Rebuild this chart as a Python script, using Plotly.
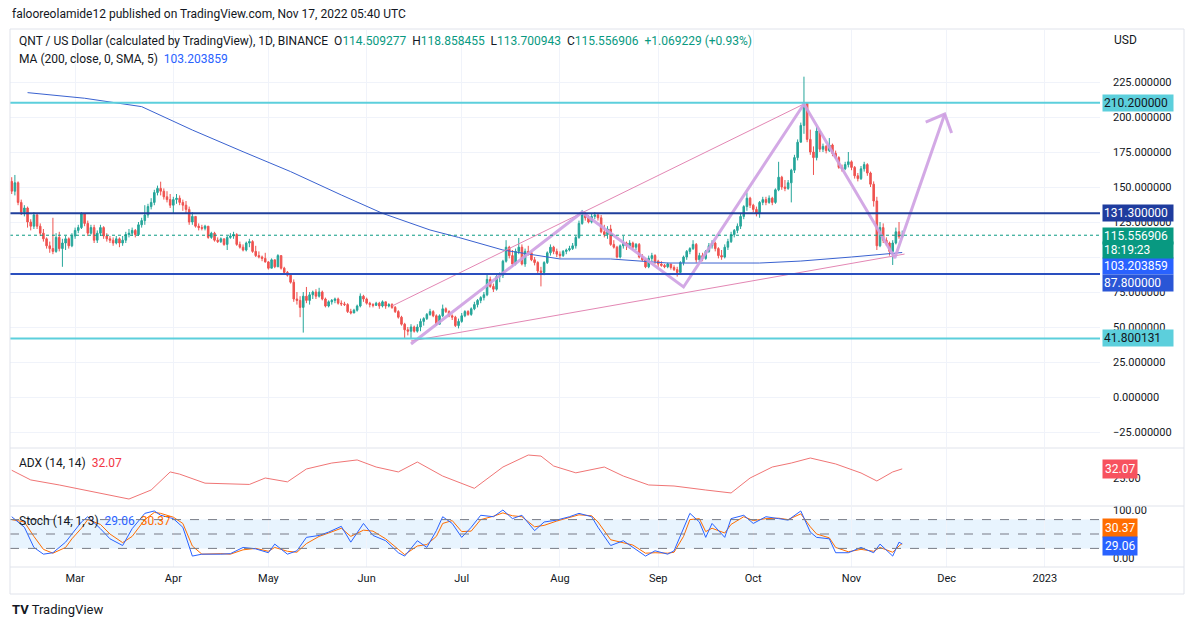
import pandas as pd
import plotly.graph_objects as go
from plotly.subplots import make_subplots

# ---------------- DATA ----------------
START_DATE = "2022-02-09"
END_DATE = "2022-11-17"
FIRST_OPEN = 154
LAST_OPEN = 114.509277

feb_close = [147,153,139,132,135,125,122,130,122,117,113,108,106,104,114,106,110,113,108,115]
feb_high = [157,158.6,154,141,137,136,127,132,131,124,120,114,111,128,117,118,113,115,114,117]
feb_low = [145,144,137,130,129,121,119,120,120,115,111,106,103,102,103,104,93,105,106,107]

mar_close = [119,121,131,124,117,121,112,117,121,115,113,112,110,113,110,112,116,117,119,116,123,126,130,136,139,146,149,147,143,141,137]
mar_high = [121,123,132,131,126,123,123,119,123,122,117,115,114,115,114,115,118,120,121,120,125,128,137,138,142,148,151,153.8,149,147,145]
mar_low = [113,117,120,122,115,116,110,110,115,113,111,110,108,109,107,108,110,114,115,114,115,121,123,128,134,137,144,144,141,139,135]

apr_close = [141,142,139,137,134,125,129,122,121,120.5,122,114,117,112,111,113,109,114,115,116,109,107,105,110,111,104,101,100,99,96.5]
apr_high = [143,145,144,141,140,136,132,129,124,123,123,122,118,118,114,114,113,115,117,118,117,111,109,111,113,112,108,104,101,103]
apr_low = [131,138,137,133,131,123,123,121,119,119,119,113,113,111,110,110,108,105,113,113,108,106,104,104,107,103,100,99,97,96]

may_close = [92,98,93,101,92,89,87,82,70,69,64,72,69,73,75,72,75,70,65,68,69,70,67,66.5,66,61,60,62,65,72,70]
may_high = [97,99,98,102,101,93,90,88,84,75,72,75,78.6,75,76,77,78,76,71,69,70,71,71,69,68,67,63,63,66,74,73]
may_low = [91,92,92,93,91,88,86,81,68,66,57,46,67,66,70,70,71,69,64,64,66,67,66,65,65,60,59,60,61,64,68]

jun_close = [67,66,65.5,67,65,68,65,66,64,61,57,52,48,47,50,47,50,54,56,59,61,58,52,58,63,61,58,57,51,54]
jun_high = [71,68,67,68,68,69,68,67,67,65,62,58,53,50,52,51,52,56,57,60,63,62,59,59,66,64,62,59,58,56]
jun_low = [66,64,64,65,63,64,63,64,63,60,56,51,42,44,42,46,46,47,51,55,58,57,51,52,57,60,57,55,50,49]

jul_close = [58,61,59,63,66,69,71,73,84,79,77,86,87,97,107,101,95,104,107,95,104,103,98,96,90,89,96,103,107,104,102]
jul_high = [60,62,62,64,68,70,72,75,88,86,81,87,89,98,112,108,105,106,113.6,109,106,108,104,100,97,93,97,104,109,108,106]
jul_low = [53,57,58,58,62,64,67,69,72,78,75,76,82,85,96,99,93,94,102,94,93,101,97,94,88,79,87,95,101,102,100]

aug_close = [101,104,105,106,108,114,124,130,128,125,129,130,128,118,116,120,109,107,100,108,110,108,110,107,109,100,98,93,99,101,97]
aug_high = [104,105,106,108,110,115,126,133.6,132,130,131,132,131,130,123,122,123,112,108,109,115,111,112,111,110,110,102,99,101,103,102]
aug_low = [99,100,102,104,105,106,113,123,126,124,124,127,126,117,114,113,108,106,99,99,106,105,106,105,105,99,97,92,92,97,95]

sep_close = [95,94,93,95,92.5,91,89,96,100,104,106,109,98,101,99,104,108,110,106,101,100,107,111,116,119,122,129,136,142,137]
sep_high = [98,97,95,96,95,94,93,97,101,105,107,112,110,103,103,105,110,112,111,107,105,109,113,118,120,124,131,137,146,143]
sep_low = [93,93,92,92,91,90,86,88,94,98,102,105,96,96,97,98,103,106,104,99,98,99,105,110,114,117,120,127,133,135]

oct_close = [134,131,139,141,139,142,139,148,157,150,149,153,162,171,182,194,210,184,175,171,190,177,179,176,180,174,171,164,163,166,168]
oct_high = [138,136,140,143,143,144,143,149,168,158,155,155,163,173,184,196,228.8,210.5,191,179,193,188,181,180,185,181,176,172,166,168,175]
oct_low = [132,129,128,137,137,138,137,138,147,148,147,148,139,160,169,183,188,182,173,158.6,169,175,175,174,175,172,170,163,161,162,164]

nov_close = [164,158,156,163,166,160,152,140,108,121,112,110,104,110,118,114.487677,115.556906]
nov_high = [169,165,160,165,168,167,161,154,143,125,124,114,111,112,121,125,118.858455]
nov_low = [162,156,154,155,161,158,150,136,105,107,110,108,101,94.3,109,113,113.700943]

# Horizontal levels drawn on the chart
level_cyan = [210.2, 41.800131]
level_navy = 131.3
level_blue = 87.8
current_price = 115.556906
countdown = "18:19:23"
ma_last = 103.203859
adx_last = 32.07
stoch_k_last = 29.06
stoch_d_last = 30.37

# MA(200) line
ma_dates = ["2022-02-14","2022-03-04","2022-03-22","2022-04-07","2022-04-23","2022-05-08",
            "2022-05-24","2022-06-06","2022-06-21","2022-06-30","2022-07-14","2022-08-01",
            "2022-08-17","2022-09-04","2022-10-03","2022-10-16","2022-11-01","2022-11-17"]
ma_values = [217.4,213.4,207.4,190.7,175.2,161,144.3,131.2,119.3,114,105,98.6,
             98.6,95.7,95.7,97.1,100,103.203859]

# Drawn trend lines
upper_line_dates = ["2022-06-09", "2022-10-17"]
upper_line_prices = [65, 209.3]
lower_line_dates = ["2022-06-15", "2022-11-17 18:00"]
lower_line_prices = [40, 102.1]
path_dates = ["2022-06-15", "2022-08-08", "2022-09-09", "2022-10-17", "2022-11-14 16:00", "2022-11-30 10:00"]
path_prices = [37.9, 132, 78.6, 209.3, 99.3, 202.1]
head_dates = ["2022-11-24 10:00", "2022-11-30 10:00", "2022-12-02 14:00"]
head_prices = [196.4, 202.1, 188.6]

# ADX(14,14)
adx_dates = ["2022-02-09","2022-02-15","2022-02-24","2022-03-09","2022-03-18","2022-03-25",
             "2022-03-31","2022-04-03","2022-04-11","2022-04-25","2022-04-30","2022-05-07",
             "2022-05-13","2022-05-21","2022-05-29","2022-06-04","2022-06-11","2022-06-17",
             "2022-06-25","2022-07-05","2022-07-14","2022-07-22","2022-07-26","2022-07-30",
             "2022-08-06","2022-08-15","2022-08-21","2022-08-29","2022-09-06","2022-09-16",
             "2022-09-24","2022-09-30","2022-10-07","2022-10-13","2022-10-19","2022-10-27",
             "2022-11-04","2022-11-09","2022-11-14","2022-11-17"]
adx_values = [31,23.5,19.6,13,8.7,15.7,29.7,28,21,20,25,22,32,36.6,39,33.5,29.7,37.4,
              26.5,17,33.5,42.8,42,34.3,29,33.5,26.5,19.6,18.8,15.7,13.4,25,33.5,36.6,
              40.5,35.9,28.9,22.7,29.7,32.07]

# Stoch(14,1,3)
stoch_dates = ["2022-02-09","2022-02-13","2022-02-16","2022-02-19","2022-02-22","2022-02-26",
               "2022-02-28","2022-03-03","2022-03-05","2022-03-09","2022-03-12","2022-03-16",
               "2022-03-19","2022-03-23","2022-03-26","2022-03-28","2022-04-01","2022-04-04",
               "2022-04-07","2022-04-10","2022-04-16","2022-04-19","2022-04-23","2022-04-27",
               "2022-05-01","2022-05-03","2022-05-07","2022-05-10","2022-05-13","2022-05-17",
               "2022-05-20","2022-05-24","2022-05-27","2022-05-31","2022-06-03","2022-06-07",
               "2022-06-11","2022-06-13","2022-06-17","2022-06-20","2022-06-23","2022-06-25",
               "2022-06-28","2022-07-01","2022-07-04","2022-07-07","2022-07-11","2022-07-14",
               "2022-07-17","2022-07-20","2022-07-24","2022-07-27","2022-07-31","2022-08-04",
               "2022-08-07","2022-08-11","2022-08-13","2022-08-17","2022-08-21","2022-08-24",
               "2022-08-28","2022-08-31","2022-09-04","2022-09-06","2022-09-09","2022-09-11",
               "2022-09-14","2022-09-16","2022-09-18","2022-09-22","2022-09-24","2022-09-28",
               "2022-10-01","2022-10-05","2022-10-09","2022-10-12","2022-10-16","2022-10-19",
               "2022-10-21","2022-10-25","2022-10-27","2022-10-31","2022-11-04","2022-11-08",
               "2022-11-10","2022-11-14","2022-11-16","2022-11-17"]
stoch_k = [86,64,22,8,11,33,50,75,86,61,40,26,61,93,98,89,82,64,4,8,8,9,22,19,
           11,29,8,15,43,47,54,66,33,72,47,36,11,4,36,22,57,86,72,43,64,89,86,100,
           82,89,57,75,79,86,93,86,64,26,36,22,4,15,8,15,64,93,75,43,72,43,82,89,
           72,86,82,79,98,54,43,40,11,11,22,11,29,4,33,29.06]
stoch_d = [80,75,45,18,10,22,40,62,80,70,50,32,45,80,95,93,85,72,25,8,9,8,17,20,
           14,22,14,12,30,45,52,62,45,58,56,40,18,7,25,28,45,72,78,55,56,80,87,94,
           88,86,65,68,77,84,90,88,75,38,32,27,10,11,10,12,45,80,82,55,62,52,70,86,
           78,82,83,80,92,65,50,42,22,13,18,14,22,12,25,30.37]

month_ticks = ["2022-03-01","2022-04-01","2022-05-01","2022-06-01","2022-07-01","2022-08-01",
               "2022-09-01","2022-10-01","2022-11-01","2022-12-01","2023-01-01"]
month_labels = ["Mar","Apr","May","Jun","Jul","Aug","Sep","Oct","Nov","Dec","2023"]
price_ticks = [-25, 0, 25, 50, 75, 100, 125, 150, 175, 200, 225]
price_hidden = [100]   # label fully covered by price tags in the reference

# ---------------- BUILD ----------------
closes = (feb_close + mar_close + apr_close + may_close + jun_close + jul_close +
          aug_close + sep_close + oct_close + nov_close)
highs = (feb_high + mar_high + apr_high + may_high + jun_high + jul_high +
         aug_high + sep_high + oct_high + nov_high)
lows = (feb_low + mar_low + apr_low + may_low + jun_low + jul_low +
        aug_low + sep_low + oct_low + nov_low)
dates = pd.date_range(START_DATE, END_DATE, freq="D")
opens = [FIRST_OPEN] + closes[:-1]
opens[-1] = LAST_OPEN

price_text = ["" if v in price_hidden else f"{v:.6f}".replace("-", "\u2212") for v in price_ticks]

FONT = "Roboto, Arial, sans-serif"
TXT = "#131722"
GRID = "#f0f3fa"
UP = "#26a69a"
DOWN = "#ef5350"

# The page body has an 8px margin: plot area on screen is px 10..1100 x, 30..567 y
PAGE = 8
W, H = 1194 - PAGE, 627 - PAGE
L, R, T, B = 10, 1100, 30, 567
def px_x(px):
    return (px - L) / (R - L)
def px_y(py):
    return (B - py) / (B - T)

fig = make_subplots(rows=3, cols=1, shared_xaxes=True, vertical_spacing=0.01)

fig.add_trace(go.Candlestick(
    x=dates, open=opens, high=highs, low=lows, close=closes,
    increasing=dict(line=dict(color=UP, width=1), fillcolor=UP),
    decreasing=dict(line=dict(color=DOWN, width=1), fillcolor=DOWN),
    whiskerwidth=0, hoverinfo="skip"), row=1, col=1)

fig.add_trace(go.Scatter(x=ma_dates, y=ma_values, mode="lines",
                         line=dict(color="#3a62d0", width=1), hoverinfo="skip"), row=1, col=1)

# drawings
fig.add_trace(go.Scatter(x=upper_line_dates, y=upper_line_prices, mode="lines",
                         line=dict(color="#e387b4", width=1), hoverinfo="skip"), row=1, col=1)
fig.add_trace(go.Scatter(x=lower_line_dates, y=lower_line_prices, mode="lines",
                         line=dict(color="#e387b4", width=1), hoverinfo="skip"), row=1, col=1)
fig.add_trace(go.Scatter(x=path_dates, y=path_prices, mode="lines",
                         line=dict(color="rgba(206,160,226,0.9)", width=3), hoverinfo="skip"), row=1, col=1)
fig.add_trace(go.Scatter(x=head_dates, y=head_prices, mode="lines",
                         line=dict(color="rgba(206,160,226,0.9)", width=3), hoverinfo="skip"), row=1, col=1)

# ADX
fig.add_trace(go.Scatter(x=adx_dates, y=adx_values, mode="lines",
                         line=dict(color="#f07575", width=1), hoverinfo="skip"), row=2, col=1)

# Stoch
fig.add_trace(go.Scatter(x=stoch_dates, y=stoch_d, mode="lines",
                         line=dict(color="#ff6d00", width=1), hoverinfo="skip"), row=3, col=1)
fig.add_trace(go.Scatter(x=stoch_dates, y=stoch_k, mode="lines",
                         line=dict(color="#2962ff", width=1), hoverinfo="skip"), row=3, col=1)

x_range = ["2022-02-08 11:00", "2023-01-18 10:00"]
fig.update_xaxes(range=x_range, tickvals=month_ticks, ticktext=month_labels,
                 showgrid=True, gridcolor=GRID, gridwidth=1, zeroline=False,
                 showline=False, rangeslider_visible=False, ticks="",
                 tickfont=dict(family=FONT, size=11, color=TXT))
fig.update_xaxes(showticklabels=False, row=1, col=1)
fig.update_xaxes(showticklabels=False, row=2, col=1)
fig.update_xaxes(showticklabels=True, ticklabelstandoff=3, row=3, col=1)

fig.update_layout(
    yaxis=dict(domain=[px_y(447), 1], range=[-35.71, 262.14], side="right",
               tickvals=price_ticks, ticktext=price_text, showgrid=True, gridcolor=GRID,
               zeroline=False, ticks="", ticklabelstandoff=12,
               tickfont=dict(family=FONT, size=11, color=TXT)),
    yaxis2=dict(domain=[px_y(505), px_y(449)], range=[4.07, 47.48], side="right",
                tickvals=[25], ticktext=["25.00"], showgrid=False, zeroline=False,
                ticks="", ticklabelstandoff=12,
                tickfont=dict(family=FONT, size=11, color=TXT)),
    yaxis3=dict(domain=[0, px_y(507)], range=[-18.75, 106.25], side="right",
                tickvals=[0, 100], ticktext=["0.00", "100.00"], showgrid=False,
                zeroline=False, ticks="", ticklabelstandoff=12,
                tickfont=dict(family=FONT, size=11, color=TXT)),
)

shapes = []
for lv in level_cyan:
    shapes.append(dict(type="line", xref="x domain", yref="y", x0=0, x1=1, y0=lv, y1=lv,
                       line=dict(color="#5ccfdc", width=2)))
shapes.append(dict(type="line", xref="x domain", yref="y", x0=0, x1=1, y0=level_navy, y1=level_navy,
                   line=dict(color="#1f3f9c", width=2)))
shapes.append(dict(type="line", xref="x domain", yref="y", x0=0, x1=1, y0=level_blue, y1=level_blue,
                   line=dict(color="#2a4fbf", width=2)))
shapes.append(dict(type="line", xref="x domain", yref="y", x0=0, x1=1, y0=current_price, y1=current_price,
                   line=dict(color="#089981", width=1, dash="dot")))
shapes.append(dict(type="rect", xref="x3 domain", yref="y3", x0=0, x1=1, y0=20, y1=80,
                   fillcolor="rgba(33,150,243,0.10)", line=dict(width=0), layer="below"))
for lv in [20, 50, 80]:
    shapes.append(dict(type="line", xref="x3 domain", yref="y3", x0=0, x1=1, y0=lv, y1=lv,
                       line=dict(color="#787b86", width=1, dash="dash")))
shapes.append(dict(type="rect", xref="paper", yref="paper", x0=px_x(10), x1=px_x(1184),
                   y0=px_y(594), y1=px_y(29), line=dict(color="#e0e3eb", width=1)))
for py in [448, 506, 567]:
    shapes.append(dict(type="line", xref="paper", yref="paper", x0=px_x(10), x1=px_x(1184),
                       y0=px_y(py), y1=px_y(py), line=dict(color="#e0e3eb", width=1)))
fig.update_layout(shapes=shapes)

ann = []
def tag(text, yval, yref, bg, fg="white", yshift=0, pad=1):
    ann.append(dict(text=text, xref="paper", x=px_x(1102), xanchor="left", yref=yref, y=yval,
                    yanchor="middle", yshift=yshift, showarrow=False, bgcolor=bg, borderpad=pad,
                    width=68, align="left", font=dict(family=FONT, size=12, color=fg)))

tag(f"{level_cyan[0]:.6f}", level_cyan[0], "y", "#5ccfdc", fg=TXT)
tag(f"{level_navy:.6f}", level_navy, "y", "#1f3c9e")
tag(f"{ma_last:.6f}", ma_last, "y", "#2962ff", yshift=-13)
tag(f"{level_blue:.6f}", level_blue, "y", "#2a56d6", yshift=-9)
tag(countdown, current_price, "y", "#089981", yshift=-15)
tag(f"{current_price:.6f}", current_price, "y", "#089981", yshift=-1)
tag(f"{level_cyan[1]:.6f}", level_cyan[1], "y", "#5ccfdc", fg=TXT)
tag(f"{adx_last:.2f}", adx_last, "y2", "#f7525f", pad=2)
tag(f"{stoch_d_last:.2f}", stoch_d_last, "y3", "#ff6d00", yshift=15, pad=2)
tag(f"{stoch_k_last:.2f}", stoch_k_last, "y3", "#2962ff", yshift=-2, pad=2)
# short tags should not be stretched
for a in ann[-3:]:
    a.pop("width")

def label(text, px, py, size=12, color=TXT):
    ann.append(dict(text=text, xref="paper", yref="paper", x=px_x(px), y=px_y(py),
                    xanchor="left", yanchor="middle", showarrow=False,
                    font=dict(family=FONT, size=size, color=color)))

G = "#089981"
label("falooreolamide12 published on TradingView.com, Nov 17, 2022 05:40 UTC", 10, 14)
label("QNT / US Dollar (calculated by TradingView), 1D, BINANCE&nbsp;&nbsp;"
      f"O<span style='color:{G}'>114.509277</span>&nbsp;&nbsp;"
      f"H<span style='color:{G}'>118.858455</span>&nbsp;&nbsp;"
      f"L<span style='color:{G}'>113.700943</span>&nbsp;&nbsp;"
      f"C<span style='color:{G}'>115.556906</span>&nbsp;&nbsp;"
      f"<span style='color:{G}'>+1.069229 (+0.93%)</span>", 17, 41)
label(f"MA (200, close, 0, SMA, 5)&nbsp;&nbsp;<span style='color:#2962ff'>{ma_last:.6f}</span>", 17, 59)
label(f"ADX (14, 14)&nbsp;&nbsp;<span style='color:#f23645'>{adx_last:.2f}</span>", 17, 463)
label(f"Stoch (14, 1, 3)&nbsp;&nbsp;<span style='color:#2962ff'>{stoch_k_last:.2f}</span>&nbsp;&nbsp;"
      f"<span style='color:#ff6d00'>{stoch_d_last:.2f}</span>", 17, 521)
label("USD", 1112, 40)
label("<b>TV</b> TradingView", 10, 609, size=13)

fig.update_layout(annotations=ann, width=W, height=H, showlegend=False,
                  margin=dict(l=L - PAGE, r=W - (R - PAGE), t=T - PAGE, b=H - (B - PAGE)),
                  paper_bgcolor="white", plot_bgcolor="white",
                  font=dict(family=FONT, size=12, color=TXT))

fig.write_html("out.html")
